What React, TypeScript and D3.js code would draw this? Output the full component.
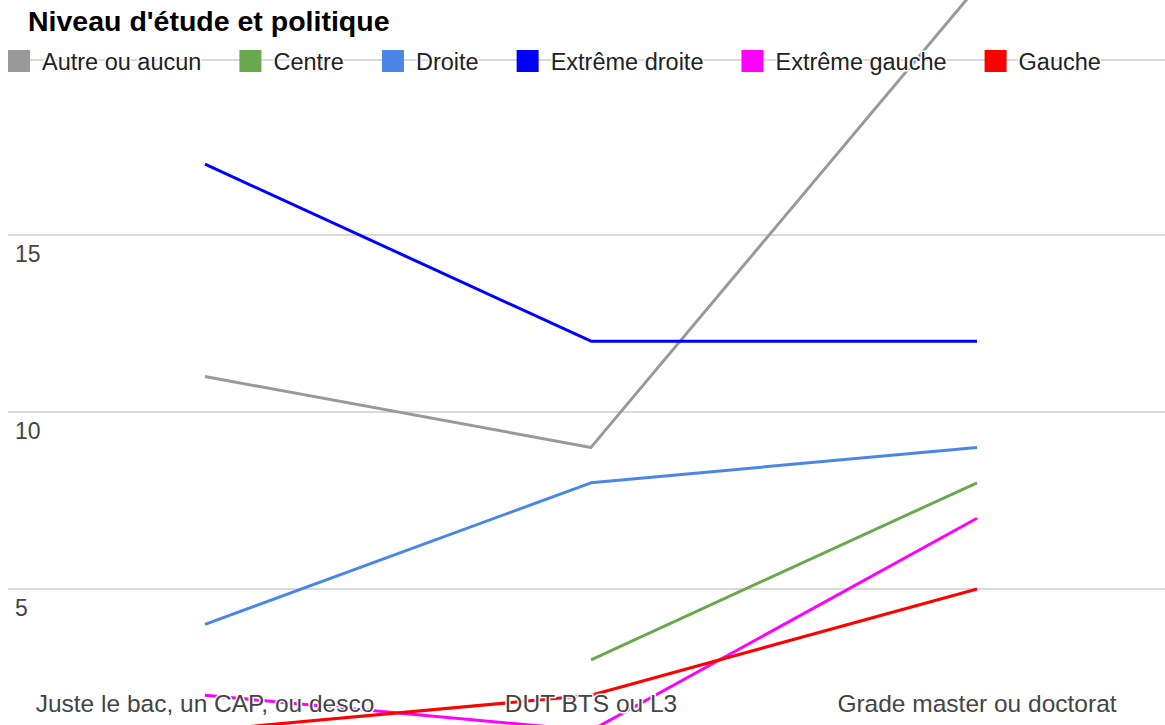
import React, { useEffect, useRef } from "react";
import * as d3 from "d3";

// catégories (axe X) — le dernier libellé est tronqué comme dans l'original
const categories = ["Juste le bac, un CAP, ou desco", "DUT BTS ou L3", "Grade master ou doctorat"];

const seriesNames = ["Autre ou aucun", "Centre", "Droite", "Extrême droite", "Extrême gauche", "Gauche"];
const seriesColors = ["#999999", "#6aa84f", "#4a86e8", "#0000ff", "#ff00ff", "#ff0000"];

const autreValues: (number | null)[] = [11, 9, 22];
const centreValues: (number | null)[] = [null, 3, 8];
const droiteValues: (number | null)[] = [4, 8, 9];
const extremeDroiteValues: (number | null)[] = [17, 12, 12];
const extremeGaucheValues: (number | null)[] = [2, 1, 7];
const gaucheValues: (number | null)[] = [1, 2, 5];

const yTicks = [5, 10, 15, 20];
const yLabelTicks = [5, 10, 15];

const FONT = "'Liberation Sans', Arial, sans-serif";

const App = () => {
  const svgRef = useRef<SVGSVGElement>(null);

  useEffect(() => {
    const width = 1165, height = 725;
    const series = [autreValues, centreValues, droiteValues, extremeDroiteValues, extremeGaucheValues, gaucheValues]
      .map((values, i) => ({ name: seriesNames[i], color: seriesColors[i], values }));

    const root = d3.select(svgRef.current);
    root.selectAll("*").remove();
    root.attr("width", width).attr("height", height);

    const svg = root.append("g");

    const x = d3.scaleBand<string>().domain(categories).range([12, 1170]);
    const cx = (c: string) => (x(c) as number) + x.bandwidth() / 2;
    const y = d3.scaleLinear().domain([0, 20]).range([766, 58]);

    // fond blanc
    svg.append("rect").attr("width", width).attr("height", height).attr("fill", "#fff");

    // grille
    svg.selectAll(".grid")
      .data(yTicks)
      .enter()
      .append("line")
      .attr("x1", 8)
      .attr("x2", width)
      .attr("y1", d => y(d) + (d === 20 ? 2 : 0))
      .attr("y2", d => y(d) + (d === 20 ? 2 : 0))
      .attr("stroke", "#cccccc")
      .attr("stroke-width", 1.5);

    // libellés Y
    svg.selectAll(".ylab")
      .data(yLabelTicks)
      .enter()
      .append("text")
      .attr("x", 15)
      .attr("y", d => y(d) + 27)
      .attr("font-family", FONT)
      .attr("font-size", 23)
      .attr("fill", "#444")
      .text(d => d);

    // courbes
    const line = d3.line<number | null>()
      .defined(d => d !== null)
      .x((_, i) => cx(categories[i]))
      .y(d => y(d as number));

    series.forEach(s => {
      svg.append("path")
        .datum(s.values)
        .attr("d", line)
        .attr("fill", "none")
        .attr("stroke", s.color)
        .attr("stroke-width", 3)
        .attr("stroke-linejoin", "round");
    });

    // libellés X (avec halo blanc)
    svg.selectAll(".xlab")
      .data(categories)
      .enter()
      .append("text")
      .attr("x", d => cx(d))
      .attr("y", 712)
      .attr("text-anchor", "middle")
      .attr("font-family", FONT)
      .attr("font-size", 24.5)
      .attr("fill", "#444")
      .attr("stroke", "#fff")
      .attr("stroke-width", 3)
      .attr("paint-order", "stroke")
      .text(d => d);

    // titre
    svg.append("text")
      .attr("x", 28)
      .attr("y", 31)
      .attr("font-family", FONT)
      .attr("font-size", 28.5)
      .attr("font-weight", "bold")
      .attr("fill", "#000")
      .text("Niveau d'étude et politique");

    // légende
    let lx = 8;
    series.forEach(s => {
      svg.append("rect")
        .attr("x", lx)
        .attr("y", 50)
        .attr("width", 22)
        .attr("height", 22)
        .attr("fill", s.color);
      const t = svg.append("text")
        .attr("x", lx + 34)
        .attr("y", 70)
        .attr("font-family", FONT)
        .attr("font-size", 23.5)
        .attr("fill", "#222")
        .attr("stroke", "#fff")
        .attr("stroke-width", 3)
        .attr("paint-order", "stroke")
        .text(s.name);
      const w = (t.node() as SVGTextElement).getComputedTextLength();
      lx = lx + 34 + w + 38;
    });
  }, []);

  return (
    <svg ref={svgRef} style={{ position: "absolute", left: 0, top: 0, display: "block" }} />
  );
};

export default App;
